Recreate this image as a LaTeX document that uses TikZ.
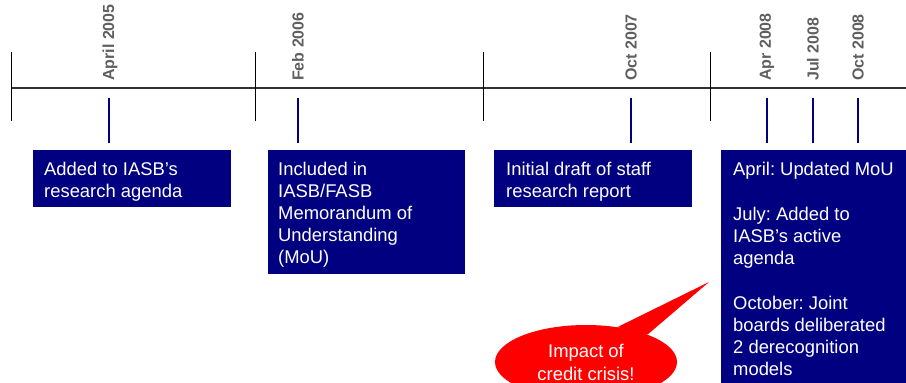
\documentclass[tikz,border=0pt]{standalone}
\usepackage{fontspec}
\setmainfont{Liberation Sans}
\usetikzlibrary{shapes.geometric}
\definecolor{boxblue}{RGB}{0,0,128}
\definecolor{dategray}{RGB}{95,95,95}
\definecolor{axisgray}{RGB}{50,50,50}
\frenchspacing

\begin{document}
\begin{tikzpicture}[x=1pt,y=-1pt,
    datelabel/.style={rotate=90,anchor=west,inner sep=0pt,text=dategray,font=\fontsize{16}{18}\selectfont\bfseries},
    eventbox/.style={fill=boxblue,draw=none,inner sep=0pt,anchor=north west},
    eventtext/.style={text=white,align=left,inner sep=0pt,anchor=north west,font=\fontsize{18.4}{22}\selectfont},
    period/.style={line width=1pt,black},
    marker/.style={line width=1.4pt,boxblue}]
    \useasboundingbox (0,0) rectangle (906,383);
    \clip (0,0) rectangle (906,383);

    % I
    \draw[line width=1.3pt,axisgray] (11,88) -- (906,88);

    \draw[period] (11,52) -- (11,121);
    \draw[period] (255,52) -- (255,121);
    \draw[period] (483,52) -- (483,121);
    \draw[period] (710,52) -- (710,121);

    % II
    \node[datelabel] (apr05) at (110,81) {April 2005};
    \node[datelabel] (feb06) at (298,81) {Feb 2006};
    \node[datelabel] (oct07) at (631,81) {Oct 2007};
    \node[datelabel] (apr08) at (767,81) {Apr 2008};
    \node[datelabel] (jul08) at (813,81) {Jul 2008};
    \node[datelabel] (oct08) at (858,81) {Oct 2008};

    \draw[marker] (109,98) -- (109,143);
    \draw[marker] (298,98) -- (298,143);
    \draw[marker] (631,98) -- (631,143);
    \draw[marker] (767,98) -- (767,143);
    \draw[marker] (813,98) -- (813,143);
    \draw[marker] (858,98) -- (858,143);

    % III
    \node[eventbox,minimum width=198pt,minimum height=57pt] (box1) at (33,150) {};
    \node[eventbox,minimum width=197pt,minimum height=124pt] (box2) at (268,150) {};
    \node[eventbox,minimum width=198pt,minimum height=57pt] (box3) at (494,150) {};
    \node[eventbox,minimum width=200pt,minimum height=250pt] (box4) at (721,150) {};

    \node[eventtext] (text1) at (44,161.8) {Added to IASB's\\research agenda};
    \node[eventtext] (text2) at (278,161.8) {Included in\\IASB/FASB\\Memorandum of\\Understanding\\(MoU)};
    \node[eventtext] (text3) at (506,161.8) {Initial draft of staff\\research report};
    \node[eventtext] (text4) at (733,161.8) {April: Updated MoU\\[23pt]July: Added to\\IASB's active\\agenda\\[23pt]October: Joint\\boards deliberated\\2 derecognition\\models};

    % IV
    \node[ellipse,fill=red,text=white,align=center,inner sep=0pt,minimum width=182pt,minimum height=74pt,text height=36pt,text depth=0pt,font=\fontsize{18.4}{23}\selectfont] (crisis) at (586,362) {Impact of\\credit crisis!};
    \coordinate (tip) at (709,282);
    \fill[red] (crisis.48) -- (tip) -- (crisis.24) -- cycle;
\end{tikzpicture}
\end{document}
